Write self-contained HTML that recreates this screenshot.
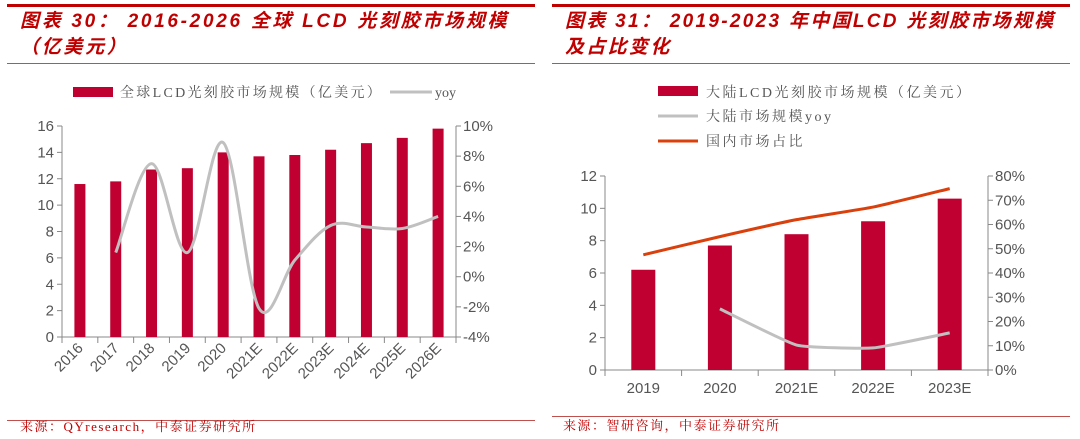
<!DOCTYPE html>
<html><head><meta charset="utf-8"><style>
body{margin:0;background:#fff;width:1080px;height:439px;overflow:hidden;font-family:"Liberation Sans","Noto Sans CJK SC",sans-serif}
.t{position:absolute;color:#c00000;font-style:italic;font-weight:bold;font-size:19px;line-height:26px;white-space:nowrap}
.src{position:absolute;color:#c00000;font-size:13px;letter-spacing:1.5px;font-family:"Liberation Serif","Noto Serif CJK SC",serif}
</style></head><body>
<svg width="1080" height="439" style="position:absolute;left:0;top:0" font-family="Liberation Sans, Noto Sans CJK SC, sans-serif">
<g>
<rect x="7" y="4" width="528" height="3" fill="#c00000"/>
<rect x="7" y="63" width="528" height="1" fill="#c0504d"/>
<rect x="7" y="420" width="528" height="1" fill="#c0504d"/>
</g>
<g>
<rect x="552" y="4" width="518" height="3" fill="#c00000"/>
<rect x="552" y="63" width="518" height="1" fill="#c0504d"/>
<rect x="552" y="416" width="518" height="1" fill="#c0504d"/>
</g>
<g id="c1"></g>
<g id="c2"></g>
<g>
<rect x="73" y="87" width="40" height="10" fill="#c00030"/>
<text x="120" y="97" font-size="14" fill="#555" letter-spacing="2.3" font-family="Liberation Serif, Noto Serif CJK SC, serif">全球LCD光刻胶市场规模（亿美元）</text>
<line x1="390" y1="92" x2="432" y2="92" stroke="#c0c0c0" stroke-width="3"/>
<text x="435" y="97" font-size="14" fill="#555" font-family="Liberation Serif, serif">yoy</text>
</g>
<g font-family="Liberation Serif, Noto Serif CJK SC, serif" font-size="14" fill="#555" letter-spacing="2.5">
<rect x="658" y="86" width="40" height="10" fill="#c00030"/>
<text x="706" y="97">大陆LCD光刻胶市场规模（亿美元）</text>
<line x1="658" y1="116" x2="698" y2="116" stroke="#c0c0c0" stroke-width="3"/>
<text x="706" y="121">大陆市场规模yoy</text>
<line x1="658" y1="141" x2="698" y2="141" stroke="#d9400c" stroke-width="3"/>
<text x="706" y="146">国内市场占比</text>
</g>
</svg>
<div class="t" style="left:20px;top:9px;letter-spacing:2.7px">图表 30： 2016-2026 全球 LCD 光刻胶市场规模<br>（亿美元）</div>
<div class="t" style="left:565px;top:9px;letter-spacing:2.3px">图表 31： 2019-2023 年中国LCD 光刻胶市场规模<br>及占比变化</div>
<div class="src" style="left:20px;top:416px">来源：QYresearch，中泰证券研究所</div>
<div class="src" style="left:563px;top:415px">来源：智研咨询，中泰证券研究所</div>
<script>
const cats1=["2016","2017","2018","2019","2020","2021E","2022E","2023E","2024E","2025E","2026E"];
const bars1=[11.6,11.8,12.7,12.8,14.0,13.7,13.8,14.2,14.7,15.1,15.8];
const yoy1=[null,1.6,7.5,1.6,8.9,-2.1,1.1,3.4,3.3,3.2,4.0];
const lTicks1=[0,2,4,6,8,10,12,14,16];
const rTicks1=[-4,-2,0,2,4,6,8,10];
const cats2=["2019","2020","2021E","2022E","2023E"];
const bars2=[6.2,7.7,8.4,9.2,10.6];
const yoy2=[null,25.2,10.3,9.1,15.3];
const share2=[47.5,55,62,67.2,74.8];
const lTicks2=[0,2,4,6,8,10,12];
const rTicks2=[0,10,20,30,40,50,60,70,80];
const NS="http://www.w3.org/2000/svg";
function mk(p,tag,a){const e=document.createElementNS(NS,tag);for(const k in a)e.setAttribute(k,a[k]);p.appendChild(e);return e;}
function smooth(pts,ten){let d="M"+pts[0][0]+","+pts[0][1];for(let i=0;i<pts.length-1;i++){const p0=pts[i-1]||pts[i],p1=pts[i],p2=pts[i+1],p3=pts[i+2]||p2;const t=ten/3;d+=" C"+(p1[0]+(p2[0]-p0[0])*t)+","+(p1[1]+(p2[1]-p0[1])*t)+" "+(p2[0]-(p3[0]-p1[0])*t)+","+(p2[1]-(p3[1]-p1[1])*t)+" "+p2[0]+","+p2[1];}return d;}
function chart(g,o){
 const n=o.cats.length,cw=(o.x1-o.x0)/n;
 const yL=v=>o.yb-(v-o.lmin)/(o.lmax-o.lmin)*(o.yb-o.yt);
 const yR=v=>o.yb-(v-o.rmin)/(o.rmax-o.rmin)*(o.yb-o.yt);
 const cx=i=>o.x0+cw*(i+0.5);
 const ax={stroke:"#888","stroke-width":1};
 mk(g,"line",Object.assign({x1:o.x0,y1:o.yt,x2:o.x0,y2:o.yb},ax));
 mk(g,"line",Object.assign({x1:o.x1,y1:o.yt,x2:o.x1,y2:o.yb},ax));
 mk(g,"line",Object.assign({x1:o.x0,y1:o.yb,x2:o.x1,y2:o.yb},ax));
 o.lt.forEach(v=>{const y=yL(v);mk(g,"line",Object.assign({x1:o.x0-5,y1:y,x2:o.x0,y2:y},ax));const t=mk(g,"text",{x:o.x0-8,y:y+5,"text-anchor":"end","font-size":15,fill:"#555"});t.textContent=v;});
 o.rt.forEach(v=>{const y=yR(v);mk(g,"line",Object.assign({x1:o.x1,y1:y,x2:o.x1+5,y2:y},ax));const t=mk(g,"text",{x:o.x1+7,y:y+5,"font-size":15,fill:"#555"});t.textContent=v+"%";});
 for(let i=0;i<=n;i++){const x=o.x0+cw*i;mk(g,"line",Object.assign({x1:x,y1:o.yb,x2:x,y2:o.yb+6},ax));}
 o.cats.forEach((c,i)=>{let t;if(o.rot){const x=cx(i)+4,y=o.yb+12;t=mk(g,"text",{x:x,y:y,"text-anchor":"end","font-size":15,fill:"#555",transform:"rotate(-45 "+x+" "+y+")"});}else{t=mk(g,"text",{x:cx(i),y:o.yb+23,"text-anchor":"middle","font-size":15,fill:"#555"});}t.textContent=c;});
 o.bars.forEach((v,i)=>{const r=mk(g,"rect",{x:cx(i)-o.bw/2,y:yL(v),width:o.bw,height:o.yb-yL(v),fill:"#c00030"});});
 o.lines.forEach(L=>{const pts=[];L.data.forEach((v,i)=>{if(v!==null)pts.push([cx(i),yR(v)]);});const p=mk(g,"path",{d:smooth(pts,L.ten),fill:"none",stroke:L.color,"stroke-width":3});});
}
chart(document.getElementById("c1"),{cats:cats1,bars:bars1,x0:62,x1:456,yt:126,yb:337,lmin:0,lmax:16,rmin:-4,rmax:10,lt:lTicks1,rt:rTicks1,bw:11,rot:true,lines:[{data:yoy1,color:"#c0c0c0",ten:0.5,name:"yoy-line"}]});
chart(document.getElementById("c2"),{cats:cats2,bars:bars2,x0:605,x1:988,yt:176,yb:370,lmin:0,lmax:12,rmin:0,rmax:80,lt:lTicks2,rt:rTicks2,bw:24,rot:false,lines:[{data:yoy2,color:"#c0c0c0",ten:0.2,name:"china-yoy-line"},{data:share2,color:"#d9400c",ten:0.25,name:"domestic-share-line"}]});
</script>
</body></html>
